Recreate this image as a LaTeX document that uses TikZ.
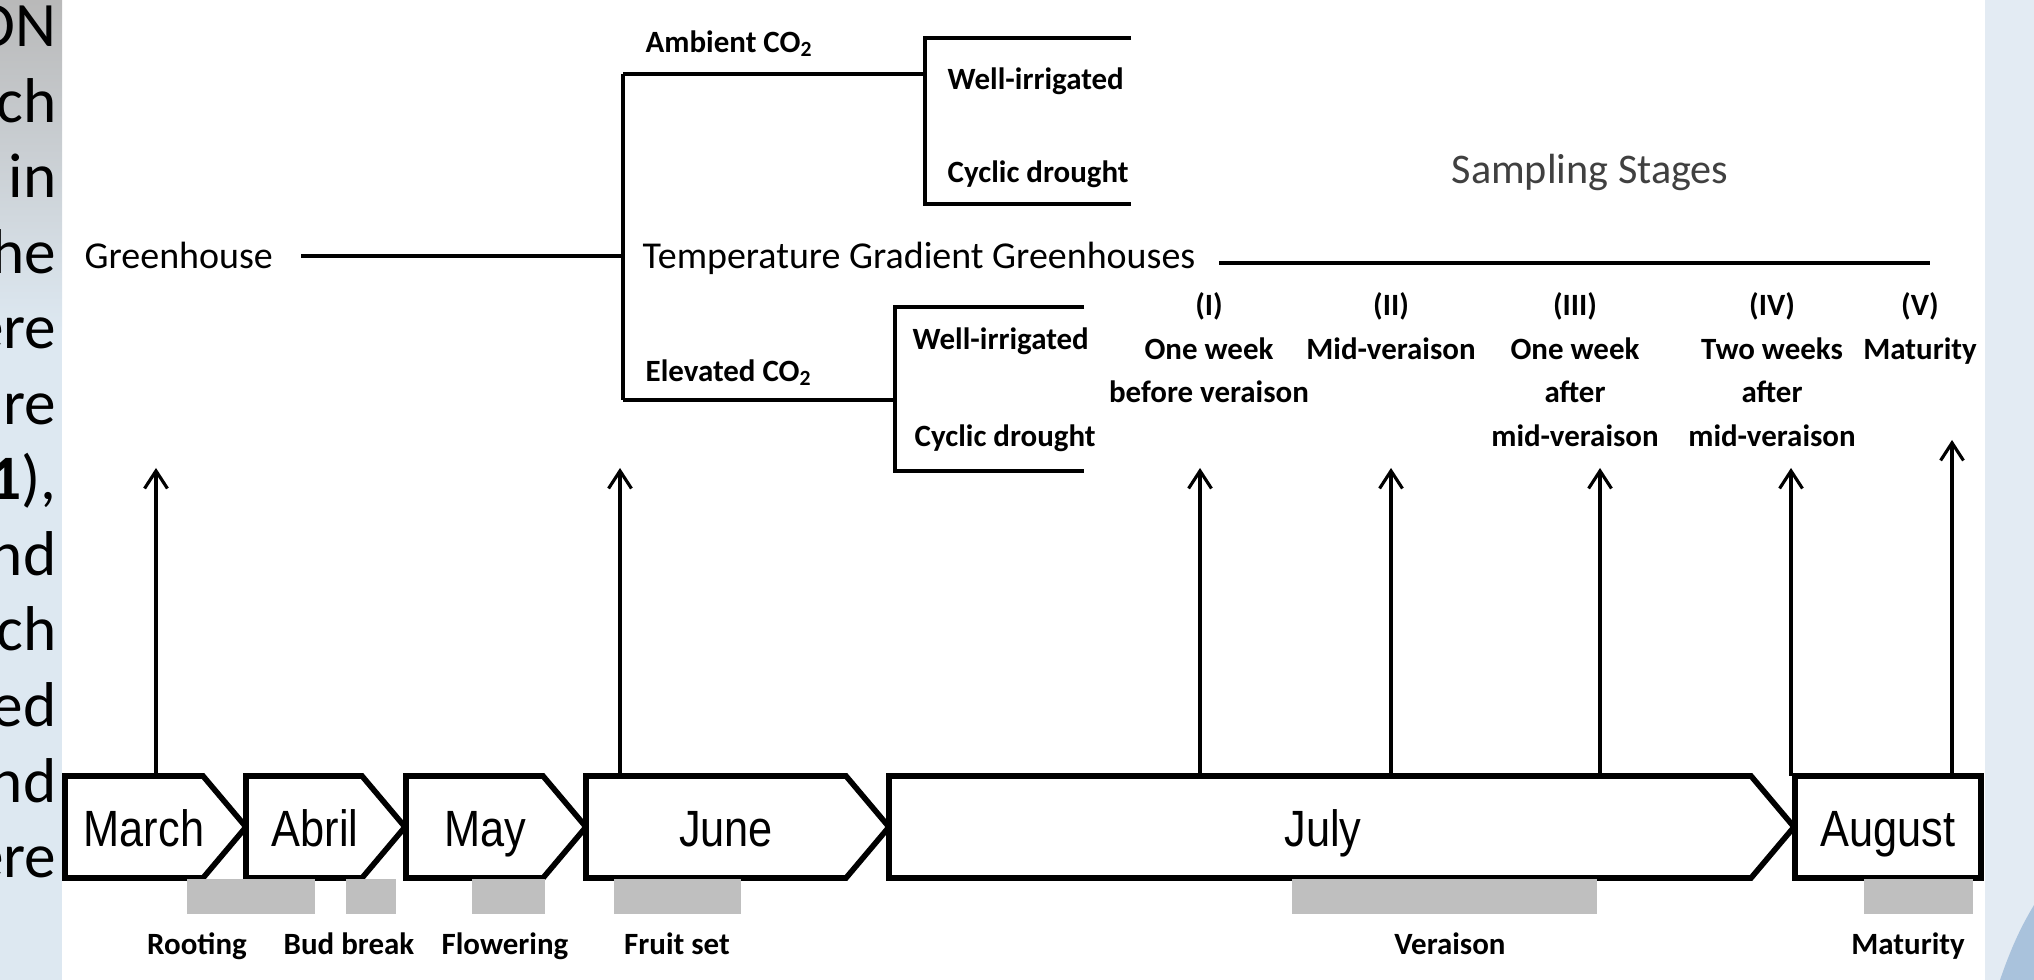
\documentclass[tikz,border=0pt]{standalone}
\usepackage{fontspec}
\setmainfont{Carlito}
\newfontfamily\monthfont[FakeStretch=0.85]{Liberation Sans}
\usetikzlibrary{arrows.meta}
\definecolor{stripblue}{HTML}{DDE8F1}
\definecolor{rightblue}{HTML}{E3EBF3}
\definecolor{arcblue}{HTML}{A9C2DC}
\definecolor{phasegray}{HTML}{BFBFBF}

\begin{document}
\begin{tikzpicture}[x=.01cm,y=-.01cm,>={Straight Barb[length=5pt,width=6.5pt]},
  tree/.style={line width=.9pt},
  samp/.style={->,line width=.9pt},
  month/.style={draw,line width=1.6pt,fill=white,line join=miter},
  mtxt/.style={font=\monthfont\fontsize{14.5}{16}\selectfont,anchor=base,inner sep=0pt},
  lab/.style={font=\bfseries\fontsize{8.8}{12.4}\selectfont,inner sep=0pt},
  big/.style={font=\fontsize{10.8}{13}\selectfont,anchor=base west,inner sep=0pt},
  phase/.style={fill=phasegray}]
\useasboundingbox (0,0) rectangle (2034,980);
% slide margins
\begin{scope}
 \clip (0,0) rectangle (62,980);
 \shade[top color=gray!55,bottom color=stripblue] (0,0) rectangle (62,330);
 \fill[stripblue] (0,330) rectangle (62,980);
 \foreach \w [count=\i from 0] in {ON,ch,in,he,ere,ure,{\textbf{1}),},nd,ch,ed,nd,ere}
  \node[font=\fontsize{18}{21}\selectfont,anchor=base east,inner sep=0pt]
   (m\i) at (57,47+75.5*\i) {\w};
\end{scope}
\fill[rightblue] (1985,0) rectangle (2034,980);
\fill[arcblue] (2000,980) .. controls (2012,945) and (2022,925) .. (2034,905)
  -- (2034,980) -- cycle;
% treatments
\node[big] (gh) at (84,269) {Greenhouse};
\node[big] (tgg) at (642,269) {Temperature Gradient Greenhouses};
\coordinate (ghx) at (301,256);
\coordinate (trunk) at (623,256);
\coordinate (amb) at (623,74);
\coordinate (elev) at (623,400);
\coordinate (ambx) at (925,74);
\coordinate (elevx) at (895,400);
\coordinate (tggx) at (1219,263);
\coordinate (ssend) at (1930,263);
\draw[tree] (ghx) -- (trunk);
\draw[tree] (amb) -- (elev);
\draw[tree] (amb) -- (ambx);
\draw[tree] (elev) -- (elevx);
\draw[tree] (1131,38) -- (925,38) -- (925,204) -- (1131,204);
\draw[tree] (1084,307) -- (895,307) -- (895,471) -- (1084,471);
\draw[tree] (tggx) -- (ssend);
\node[lab,anchor=base west] (ambl) at (645,53) {Ambient CO\textsubscript{2}};
\node[lab,anchor=base west] (elevl) at (645,382) {Elevated CO\textsubscript{2}};
\node[lab,anchor=base west] (wi1) at (947,90) {Well-irrigated};
\node[lab,anchor=base west] (cd1) at (947,183) {Cyclic drought};
\node[lab,anchor=base west] (wi2) at (912,350) {Well-irrigated};
\node[lab,anchor=base west] (cd2) at (914,447) {Cyclic drought};
\node[font=\fontsize{12}{14}\selectfont,text=black!75,anchor=base] (ss)
  at (1590,184) {Sampling Stages};
% sampling stages
\foreach \x/\t [count=\i] in {1209/{(I)\\One week\\before veraison},
  1391/{(II)\\Mid-veraison},1575/{(III)\\One week\\after\\mid-veraison},
  1772/{(IV)\\Two weeks\\after\\mid-veraison},1920/{(V)\\Maturity}}
 \node[lab,align=center,anchor=north] (st\i) at (\x,292) {\t};
\foreach \x/\y [count=\i] in {156/468,620/468,1200/468,1391/468,1600/468,
  1791/468,1952/440}{
 \coordinate (f\i) at (\x,776);
 \coordinate (t\i) at (\x,\y);
 \draw[samp] (f\i) -- (t\i);
}
% months
\foreach \l/\r/\c/\n/\t in {65/246/144/mar/March,246/405/315/apr/Abril,
  406/586/485/may/May,586/889/726/jun/June,889/1794/1323/jul/July}{
 \draw[month] (\l,776) -- (\r-43,776) -- (\r,827) -- (\r-43,878)
   -- (\l,878) -- cycle;
 \node[mtxt] (\n) at (\c,846) {\t};
}
\draw[month] (1795,776) rectangle (1981,878);
\node[mtxt] (aug) at (1888,846) {August};
% phenology
\foreach \a/\b/\c/\n/\t in {187/315/197/root/Rooting,346/396/349/bud/Bud break,
  472/545/505/flow/Flowering,614/741/677/fruit/Fruit set,
  1292/1597/1450/ver/Veraison,1864/1973/1908/mat/Maturity}{
 \fill[phase] (\a,879) rectangle (\b,914);
 \node[lab,anchor=base] (\n) at (\c,954) {\t};
}
\end{tikzpicture}
\end{document}
